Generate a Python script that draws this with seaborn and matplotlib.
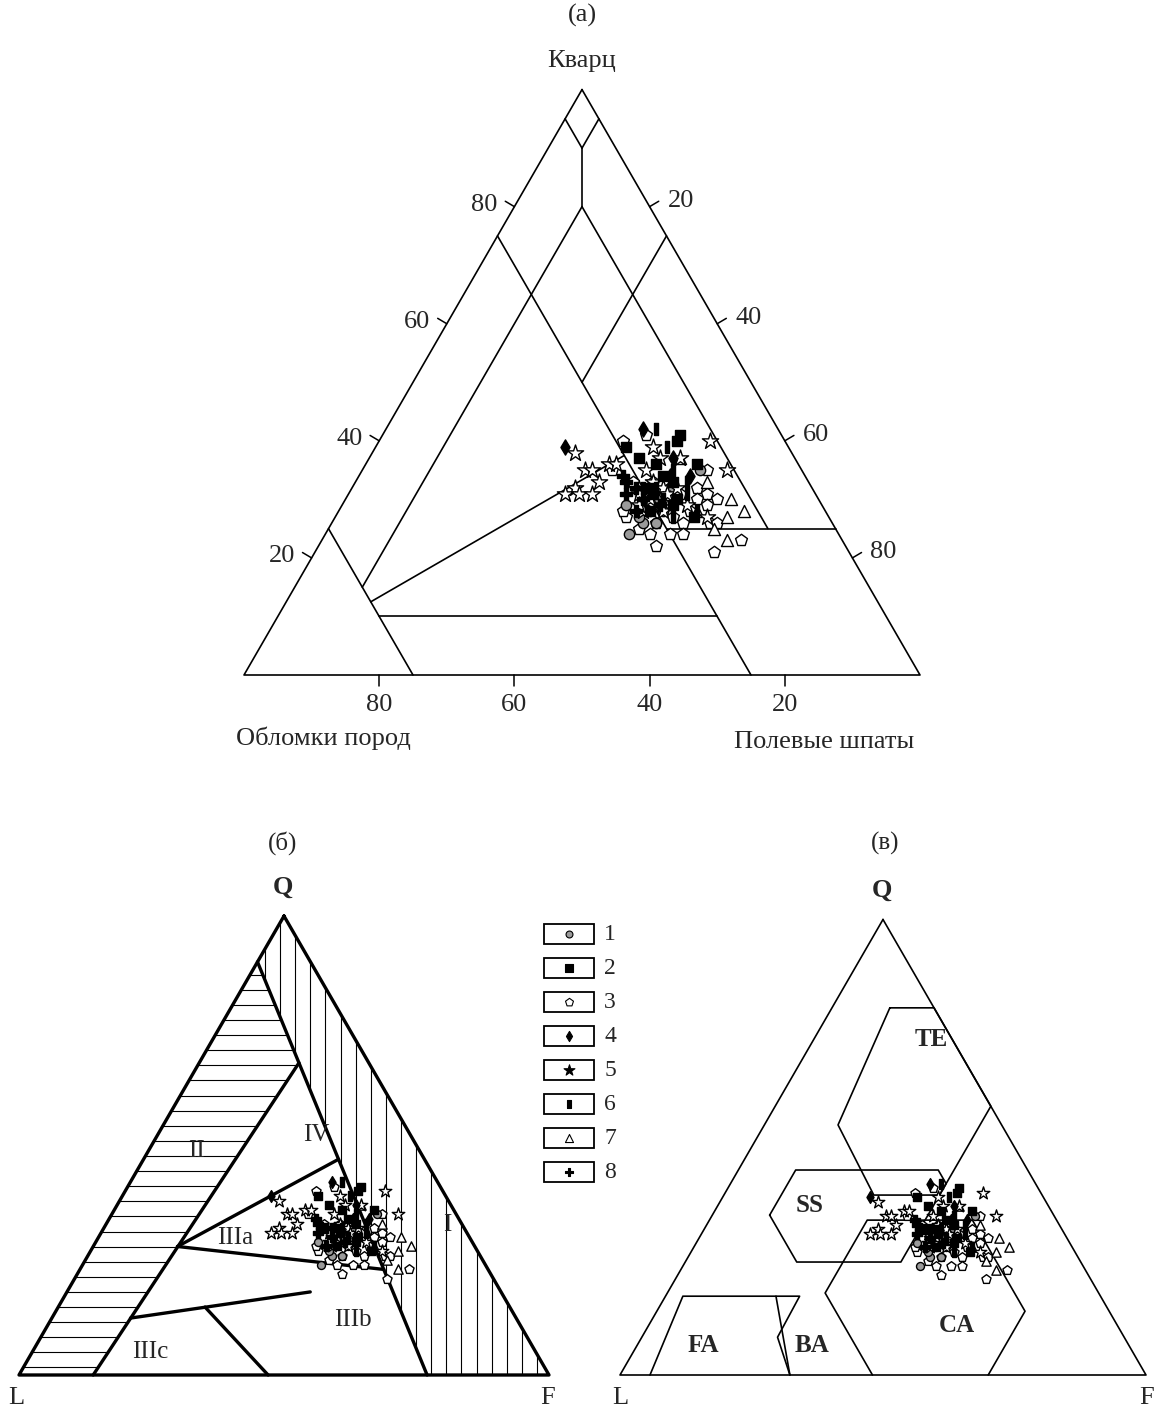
import numpy as np
import pandas as pd
import matplotlib
matplotlib.use("Agg")
import matplotlib.pyplot as plt
from matplotlib.patches import Polygon, Rectangle
import seaborn as sns

sns.set_theme(style="white")
plt.rcParams['font.family'] = ['Liberation Serif', 'DejaVu Serif']

# sample compositions, %: Q - quartz, F - feldspar (L = 100 - Q - F)
q1 = [35, 30, 28, 26, 24, 26, 28, 27, 32, 29]
f1 = [50, 46, 46, 46, 45, 48, 48, 45, 47, 42]
q2 = [37, 39, 36, 40, 41, 36, 34, 30, 27, 32, 31, 29, 33, 28]
f2 = [40, 37, 43, 44, 44, 49, 45, 49, 53, 44, 45, 49, 47, 46]
q3 = [40, 41, 35, 33, 35, 32, 31, 30, 27, 27, 26, 26, 26, 24, 24, 24, 22, 21,
      23, 29, 33, 32, 30, 29, 28, 26, 28, 25, 31]
f3 = [36, 39, 37, 41, 51, 51, 53, 55, 43, 50, 52, 56, 57, 48, 51, 53, 50, 59,
      62, 54, 44, 47, 52, 48, 52, 48, 42, 46, 49]
q4 = [39, 42, 37, 34, 34]
f4 = [28, 38, 45, 49, 46]
q5 = [38, 40, 35, 36, 36, 35, 35, 33, 32, 31, 31, 31, 35, 39, 37, 37, 30, 30,
      29, 32, 29, 27, 31, 30, 28, 29, 31, 28, 33, 32]
f5 = [30, 49, 54, 36, 37, 33, 34, 36, 33, 32, 34, 36, 42, 41, 43, 46, 44, 48,
      46, 46, 51, 55, 43, 45, 45, 44, 47, 48, 44, 48]
q6 = [42, 39, 33, 28, 31, 35, 30, 32, 27]
f6 = [40, 43, 49, 53, 50, 46, 47, 45, 50]
q7 = [37, 33, 30, 28, 27, 23, 25, 28]
f7 = [46, 52, 57, 60, 58, 60, 57, 53]
q8 = [33, 30, 32, 29, 32, 34, 31, 28]
f8 = [40, 44, 42, 47, 43, 39, 41, 44]

legend_labels = ['1', '2', '3', '4', '5', '6', '7', '8']

R3 = np.sqrt(3) / 2


def txy(q, f):
    q = np.asarray(q, float)
    f = np.asarray(f, float)
    return f + q / 2, q * R3


rows = []
for k, (qs, fs) in enumerate(zip([q1, q2, q3, q4, q5, q6, q7, q8],
                                 [f1, f2, f3, f4, f5, f6, f7, f8]), start=1):
    for q, f in zip(qs, fs):
        rows.append((k, q, f))
df = pd.DataFrame(rows, columns=['cls', 'Q', 'F'])
df['L'] = 100 - df.Q - df.F
df['x'], df['y'] = txy(df.Q, df.F)

BAR = [(-0.38, -1), (0.38, -1), (0.38, 1), (-0.38, 1), (-0.38, -1)]
MARK = {1: 'o', 2: 's', 3: 'p', 4: 'd', 5: '*', 6: BAR, 7: '^', 8: 'P'}
FACE = {1: '#9a9a9a', 2: 'black', 3: 'white', 4: 'black', 5: 'white',
        6: 'black', 7: 'white', 8: 'black'}
SIZE = {1: 55, 2: 58, 3: 80, 4: 60, 5: 150, 6: 78, 7: 75, 8: 70}
ORDER = [3, 7, 1, 5, 2, 6, 4, 8]

W, H = 1157, 1411
fig = plt.figure(figsize=(W / 100, H / 100), dpi=100)


def panel(x0, y0, scale, box):
    l, t, r, b = box
    ax = fig.add_axes([l / W, 1 - b / H, (r - l) / W, (b - t) / H])
    ax.set_xlim((l - x0) / scale, (r - x0) / scale)
    ax.set_ylim((y0 - b) / scale, (y0 - t) / scale)
    ax.axis('off')
    return ax


def seg(ax, p1, p2, lw=1.2):
    x, y = txy([p1[0], p2[0]], [p1[1], p2[1]])
    ax.plot(x, y, color='black', lw=lw, solid_capstyle='round', zorder=3)


def path(ax, pts, closed=False, lw=1.2):
    x, y = txy([p[0] for p in pts], [p[1] for p in pts])
    if closed:
        x, y = np.append(x, x[0]), np.append(y, y[0])
    ax.plot(x, y, color='black', lw=lw, zorder=3)


def frame(ax, lw=1.2):
    path(ax, [(100, 0), (0, 0), (0, 100)], closed=True, lw=lw)


def points(ax, scale):
    for k in ORDER:
        sub = df[df.cls == k]
        sns.scatterplot(data=sub, x='x', y='y', marker=MARK[k], color=FACE[k],
                        edgecolor='black', linewidth=1.0, s=SIZE[k] * scale,
                        ax=ax, legend=False, zorder=5)
    ax.set_xlabel('')
    ax.set_ylabel('')
    ax.axis('off')


# ---------------- (а) ----------------
axa = panel(244, 675, 6.76, (0, 0, 1157, 790))
frame(axa)
lines_a = [((95, 0), (90, 5)), ((95, 5), (90, 5)), ((90, 5), (80, 10)),
           ((80, 10), (15, 10)), ((80, 10), (25, 65)), ((75, 0), (0, 75)),
           ((75, 25), (50, 25)), ((25, 0), (0, 25)),
           ((12.5, 12.5), (37.5, 37.5)), ((10, 15), (10, 65)),
           ((25, 50), (25, 75))]
for p1, p2 in lines_a:
    seg(axa, p1, p2)

ticks = [20, 40, 60, 80]
for v in ticks:
    # left side: quartz
    x, y = txy(v, 0)
    axa.plot([x, x - 1.35], [y, y + 0.8], color='black', lw=1.1)
    axa.text(x - 4.4, y + 0.3, str(v), ha='center', va='center', fontsize=19)
    # right side: feldspar
    x, y = txy(100 - v, v)
    axa.plot([x, x + 1.35], [y, y + 0.8], color='black', lw=1.1)
    axa.text(x + 4.6, y + 0.9, str(v), ha='center', va='center', fontsize=19)
    # base: rock fragments
    x, y = txy(0, 100 - v)
    axa.plot([x, x], [y, y - 1.7], color='black', lw=1.1)
    axa.text(x, y - 4.4, str(v), ha='center', va='center', fontsize=19)

axa.text(50, 90.8, 'Кварц', ha='center', va='center', fontsize=19)
axa.text(11.8, -9.4, 'Обломки пород', ha='center', va='center', fontsize=19)
axa.text(85.8, -9.9, 'Полевые шпаты', ha='center', va='center', fontsize=19)
axa.text(50, 97.6, '(а)', ha='center', va='center', fontsize=19)
points(axa, 1.0)

# ---------------- (б) ----------------
axb = panel(19, 1375, 5.3, (0, 800, 600, 1411))


def on_a(q):
    # boundary line from (Q90, L10) to (Q0, F77)
    return (q, 77 * (90 - q) / 90)


def on_ii(q):
    # boundary line from (Q68, F18.6) to (Q0, F14)
    return (q, 14 + (18.6 - 14) * q / 68)


region_i = [(100, 0), on_a(90), on_a(0), (0, 100)]
region_ii = [on_a(90), on_a(68), on_ii(0), (0, 0)]
for reg, vertical in [(region_i, True), (region_ii, False)]:
    px, py = txy([p[0] for p in reg], [p[1] for p in reg])
    poly = Polygon(np.column_stack([px, py]), closed=True, fc='none', ec='none')
    axb.add_patch(poly)
    step = 2.85
    if vertical:
        for xv in np.arange(px.min() + step / 2, px.max(), step):
            ln, = axb.plot([xv, xv], [py.min(), py.max()], color='black', lw=0.8)
            ln.set_clip_path(poly)
    else:
        for yv in np.arange(py.min() + step / 2, py.max(), step):
            ln, = axb.plot([px.min(), px.max()], [yv, yv], color='black', lw=0.8)
            ln.set_clip_path(poly)

BW = 2.4
frame(axb, BW)
seg(axb, on_a(90), on_a(0), BW)
seg(axb, on_a(68), on_ii(0), BW)
seg(axb, on_ii(28), on_a(47), BW)
seg(axb, on_ii(28), on_a(23), BW)
seg(axb, on_ii(12.4), (18.1, 45.9), BW)
seg(axb, (14.8, 27.7), (0, 47), BW)

for s, (x, y) in {'II': (33.4, 42.3), 'IV': (56.0, 45.3), 'IIIa': (40.8, 25.8),
                  'IIIb': (63.0, 10.4), 'IIIc': (24.7, 4.3),
                  'I': (80.9, 28.3)}.items():
    axb.text(x, y, s, ha='center', va='center', fontsize=18)
axb.text(49.8, 100.4, '(б)', ha='center', va='center', fontsize=18)
axb.text(49.8, 92.0, 'Q', ha='center', va='center', fontsize=19, fontweight='bold')
axb.text(-0.5, -4.3, 'L', ha='center', va='center', fontsize=19)
axb.text(99.8, -4.3, 'F', ha='center', va='center', fontsize=19)
points(axb, 0.6)

# ---------------- (в) ----------------
axc = panel(620, 1375, 5.26, (600, 800, 1157, 1411))
frame(axc)
path(axc, [(80.6, 11), (80.6, 19.4), (59, 41), (39.5, 41), (39.5, 28.5),
           (54.9, 14)], closed=True)                                   # TE
path(axc, [(35.1, 10.9), (45, 10.9), (45, 38), (42, 41), (24.8, 41),
           (24.8, 21.2)], closed=True)                                 # SS
path(axc, [(0, 48), (18, 30), (34, 30), (34, 50), (14, 70), (0, 70)])  # CA
path(axc, [(0, 5.7), (17.3, 3.3), (17.3, 25.5), (8.3, 25.8), (0, 32.3)])  # FA
seg(axc, (17.3, 21.0), (0, 32.3))                                      # BA

for s, (x, y) in {'TE': (59.2, 63.7), 'SS': (36.1, 32.3), 'CA': (64.1, 9.5),
                  'BA': (36.5, 5.7), 'FA': (15.8, 5.7)}.items():
    axc.text(x, y, s, ha='center', va='center', fontsize=18, fontweight='bold')
axc.text(50.4, 101.1, '(в)', ha='center', va='center', fontsize=18)
axc.text(49.8, 92.2, 'Q', ha='center', va='center', fontsize=19, fontweight='bold')
axc.text(0, -4.3, 'L', ha='center', va='center', fontsize=19)
axc.text(100.2, -4.3, 'F', ha='center', va='center', fontsize=19)
points(axc, 0.6)

# ---------------- legend ----------------
axl = fig.add_axes([0, 0, 1, 1])
axl.set_xlim(0, W)
axl.set_ylim(H, 0)
axl.axis('off')
for i, lab in enumerate(legend_labels):
    k = i + 1
    yc = 934 + i * 34
    axl.add_patch(Rectangle((544, yc - 10), 50, 20, fc='white', ec='black', lw=1.3))
    face = 'black' if k == 5 else FACE[k]
    axl.scatter([569], [yc], marker=MARK[k], c=face, edgecolors='black',
                linewidths=0.8, s=SIZE[k] * 0.45, zorder=5)
    axl.text(610, yc, lab, ha='center', va='center', fontsize=17)

fig.savefig('out.png', dpi=100)
